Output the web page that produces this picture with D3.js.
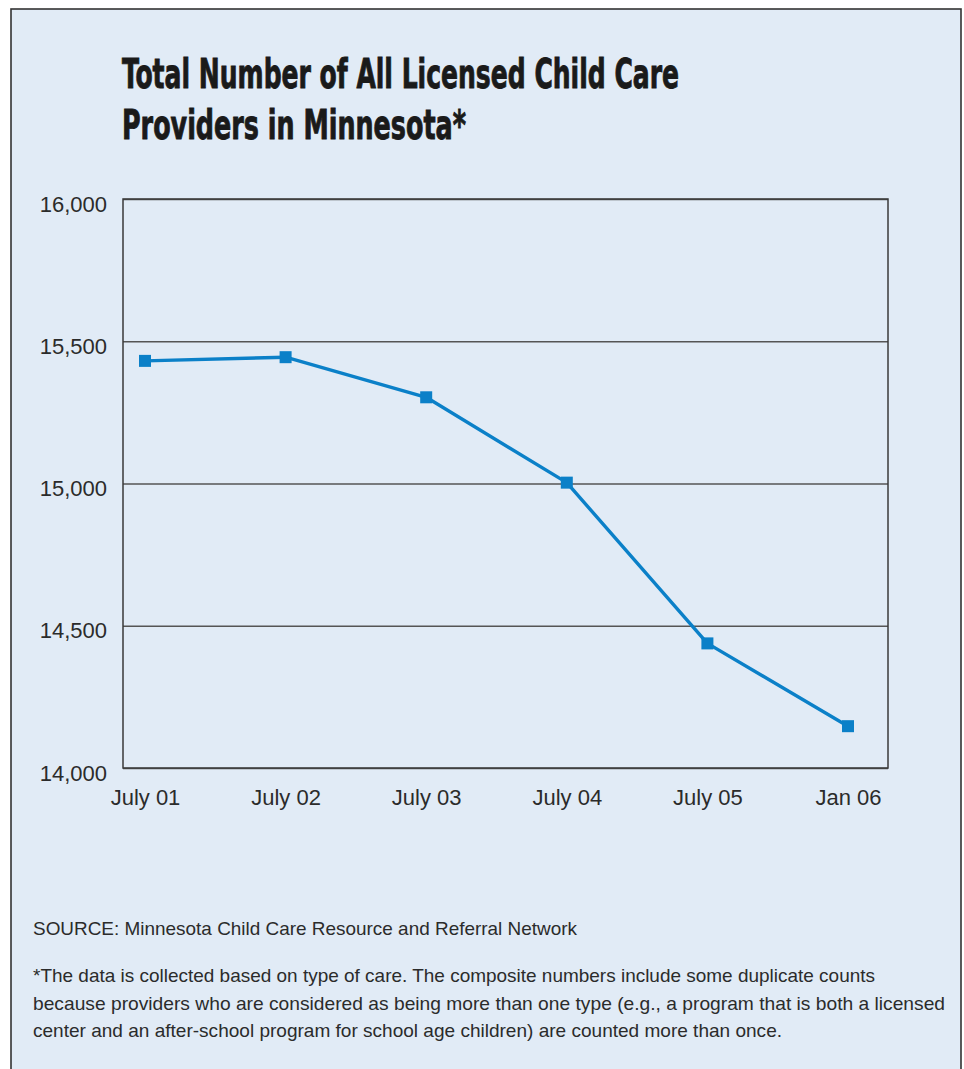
<!DOCTYPE html>
<html>
<head>
<meta charset="utf-8">
<script src="https://cdn.jsdelivr.net/npm/d3@7"></script>
<style>
  html, body { margin: 0; padding: 0; background: #ffffff; }
  svg { display: block; }
</style>
</head>
<body>
<svg id="chart" width="964" height="1069"></svg>
<script>
// ---- data ----
const categories = ["July 01", "July 02", "July 03", "July 04", "July 05", "Jan 06"];
const providers = [15431, 15444, 15303, 15003, 14438, 14147];
const yTicks = [14000, 14500, 15000, 15500, 16000];
const titleLines = ["Total Number of All Licensed Child Care", "Providers in Minnesota*"];
const sourceText = "SOURCE: Minnesota Child Care Resource and Referral Network";
const noteLines = [
  "*The data is collected based on type of care. The composite numbers include some duplicate counts",
  "because providers who are considered as being more than one type (e.g., a program that is both a licensed",
  "center and an after-school program for school age children) are counted more than once."
];

// ---- layout ----
const svg = d3.select("#chart");
const bg = "#e1ebf6";
const ink = "#2b2b2b";
const blue = "#0b80c8";
const bodyFont = "'Liberation Sans', Arial, sans-serif";
const titleFont = "'Liberation Sans Narrow', 'DejaVu Sans Condensed', 'Roboto Condensed', 'Arial Narrow', sans-serif";

// outer panel
svg.append("rect")
  .attr("x", 11).attr("y", 9)
  .attr("width", 950).attr("height", 1100)
  .attr("fill", bg)
  .attr("stroke", "#333").attr("stroke-width", 1.6);

// title
const titleLens = [557, 344];
svg.append("g").selectAll("text")
  .data(titleLines)
  .join("text")
  .attr("x", 122)
  .attr("y", (d, i) => 88 + i * 51)
  .attr("font-family", titleFont)
  .attr("font-weight", "bold")
  .attr("font-stretch", "condensed")
  .attr("font-size", 41)
  .attr("fill", "#1a1a1a")
  .attr("stroke", "#1a1a1a")
  .attr("stroke-width", 0.9)
  .attr("textLength", (d, i) => titleLens[i])
  .attr("lengthAdjust", "spacingAndGlyphs")
  .text(d => d);

// plot area
const plot = { left: 123, right: 888, top: 199, bottom: 768 };

const x = d3.scalePoint()
  .domain(categories)
  .range([145, 848]);

const y = d3.scaleLinear()
  .domain([14000, 16000])
  .range([plot.bottom, plot.top]);

// gridlines + y labels
const yAxis = d3.axisLeft(y)
  .tickValues(yTicks)
  .tickSize(-(plot.right - plot.left))
  .tickPadding(16)
  .tickFormat(d3.format(","));

const gy = svg.append("g")
  .attr("transform", `translate(${plot.left},0)`)
  .call(yAxis);
gy.select(".domain").remove();
gy.selectAll(".tick line")
  .attr("stroke", "#555")
  .attr("stroke-width", 1.5);
gy.selectAll(".tick text")
  .attr("font-family", bodyFont)
  .attr("font-size", 22)
  .attr("fill", ink)
  .attr("dy", "0.55em");

// plot frame
svg.append("rect")
  .attr("x", plot.left).attr("y", plot.top)
  .attr("width", plot.right - plot.left)
  .attr("height", plot.bottom - plot.top)
  .attr("fill", "none")
  .attr("stroke", "#3a3a3a")
  .attr("stroke-width", 1.5);

// x labels
const xAxis = d3.axisBottom(x).tickSize(0).tickPadding(21);
const gx = svg.append("g")
  .attr("transform", `translate(0,${plot.bottom})`)
  .call(xAxis);
gx.select(".domain").remove();
gx.selectAll(".tick text")
  .attr("font-family", bodyFont)
  .attr("font-size", 22)
  .attr("fill", ink);

// line
const pts = categories.map((c, i) => ({ c, v: providers[i] }));
svg.append("path")
  .datum(pts)
  .attr("fill", "none")
  .attr("stroke", blue)
  .attr("stroke-width", 3.4)
  .attr("stroke-linejoin", "round")
  .attr("d", d3.line().x(d => x(d.c)).y(d => y(d.v)));

// markers
const m = 12;
svg.append("g").selectAll("rect")
  .data(pts)
  .join("rect")
  .attr("x", d => x(d.c) - m / 2)
  .attr("y", d => y(d.v) - m / 2)
  .attr("width", m).attr("height", m)
  .attr("fill", blue);

// source
svg.append("text")
  .attr("x", 33).attr("y", 935)
  .attr("font-family", bodyFont)
  .attr("font-size", 19)
  .attr("fill", ink)
  .attr("textLength", 544)
  .attr("lengthAdjust", "spacingAndGlyphs")
  .text(sourceText);

// footnote
const noteLens = [842, 912, 749];
const noteBase = [982, 1010, 1037];
svg.append("g").selectAll("text")
  .data(noteLines)
  .join("text")
  .attr("x", 33)
  .attr("y", (d, i) => noteBase[i])
  .attr("font-family", bodyFont)
  .attr("font-size", 19)
  .attr("fill", ink)
  .attr("textLength", (d, i) => noteLens[i])
  .attr("lengthAdjust", "spacingAndGlyphs")
  .text(d => d);
</script>
</body>
</html>
